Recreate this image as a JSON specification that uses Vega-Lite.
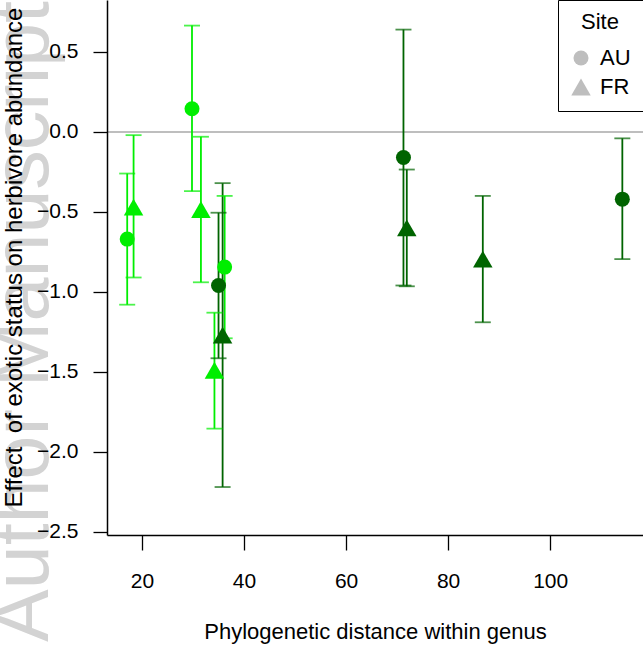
{
  "$schema": "https://vega.github.io/schema/vega-lite/v6.json",
  "width": 536,
  "height": 535,
  "autosize": {"type": "none"},
  "padding": {"left": 107, "top": 0, "right": 0, "bottom": 113},
  "background": "white",
  "title": {
    "text": "Author Manuscript",
    "orient": "left",
    "anchor": "start",
    "frame": "bounds",
    "fontSize": 79,
    "font": "Liberation Sans",
    "fontWeight": "normal",
    "color": "#d3d3d3",
    "offset": -62,
    "zindex": 0
  },
  "config": {
    "font": "Liberation Sans",
    "view": {"stroke": null},
    "axis": {
      "grid": false,
      "domainColor": "black",
      "tickColor": "black",
      "labelColor": "black",
      "titleColor": "black",
      "labelFont": "Liberation Sans",
      "titleFont": "Liberation Sans",
      "titleFontWeight": "normal",
      "labelFontSize": 21,
      "titleFontSize": 22,
      "domainWidth": 1.5,
      "tickWidth": 1.3
    },
    "legend": {
      "labelFont": "Liberation Sans",
      "titleFont": "Liberation Sans",
      "titleFontWeight": "normal",
      "symbolBaseFillColor": "#bebebe",
      "symbolBaseStrokeColor": "#bebebe"
    }
  },
  "data": {
    "values": [
      {"dist": 17.1, "effect": -0.67, "lo": -1.08, "hi": -0.26, "Site": "AU", "group": "A"},
      {"dist": 18.35, "effect": -0.47, "lo": -0.91, "hi": -0.02, "Site": "FR", "group": "A"},
      {"dist": 29.8, "effect": 0.145, "lo": -0.37, "hi": 0.665, "Site": "AU", "group": "A"},
      {"dist": 31.55, "effect": -0.485, "lo": -0.94, "hi": -0.03, "Site": "FR", "group": "A"},
      {"dist": 34.2, "effect": -1.49, "lo": -1.855, "hi": -1.13, "Site": "FR", "group": "A"},
      {"dist": 36.2, "effect": -0.845, "lo": -1.29, "hi": -0.4, "Site": "AU", "group": "A"},
      {"dist": 35.0, "effect": -0.96, "lo": -1.415, "hi": -0.505, "Site": "AU", "group": "B"},
      {"dist": 35.8, "effect": -1.27, "lo": -2.22, "hi": -0.32, "Site": "FR", "group": "B"},
      {"dist": 71.25, "effect": -0.16, "lo": -0.96, "hi": 0.64, "Site": "AU", "group": "B"},
      {"dist": 71.9, "effect": -0.6, "lo": -0.965, "hi": -0.235, "Site": "FR", "group": "B"},
      {"dist": 86.8, "effect": -0.795, "lo": -1.19, "hi": -0.4, "Site": "FR", "group": "B"},
      {"dist": 114.15, "effect": -0.42, "lo": -0.795, "hi": -0.04, "Site": "AU", "group": "B"}
    ]
  },
  "layer": [
    {
      "mark": {"type": "rule", "color": "#bebebe", "strokeWidth": 1.3},
      "encoding": {"y": {"datum": 0, "type": "quantitative"}}
    },
    {
      "mark": {"type": "rule", "strokeWidth": 1.8},
      "encoding": {
        "x": {"field": "dist", "type": "quantitative",
              "scale": {"domain": [13.14, 118.2], "nice": false, "zero": false},
              "axis": {"values": [20, 40, 60, 80, 100], "tickSize": 15, "labelPadding": 20, "zindex": 2,
                       "title": "Phylogenetic distance within genus", "titlePadding": 30}},
        "y": {"field": "lo", "type": "quantitative",
              "scale": {"domain": [-2.52, 0.825], "nice": false, "zero": false},
              "axis": {"values": [-2.5, -2, -1.5, -1, -0.5, 0, 0.5], "format": ".1f", "tickSize": 14, "zindex": 2,
                       "labelPadding": 15, "title": "Effect\u00a0 of exotic status on herbivore abundance",
                       "titleFontSize": 24, "titleY": 257, "titlePadding": 10}},
        "y2": {"field": "hi"},
        "color": {"field": "group", "type": "nominal",
                  "scale": {"domain": ["A", "B"], "range": ["#00ee00", "#006400"]}, "legend": null}
      }
    },
    {
      "mark": {"type": "tick", "orient": "horizontal", "size": 16, "thickness": 1.8},
      "encoding": {
        "x": {"field": "dist", "type": "quantitative"},
        "y": {"field": "lo", "type": "quantitative"},
        "color": {"field": "group", "type": "nominal", "legend": null}
      }
    },
    {
      "mark": {"type": "tick", "orient": "horizontal", "size": 16, "thickness": 1.8},
      "encoding": {
        "x": {"field": "dist", "type": "quantitative"},
        "y": {"field": "hi", "type": "quantitative"},
        "color": {"field": "group", "type": "nominal", "legend": null}
      }
    },
    {
      "mark": {"type": "point", "filled": true, "opacity": 1},
      "encoding": {
        "x": {"field": "dist", "type": "quantitative"},
        "y": {"field": "effect", "type": "quantitative"},
        "color": {"field": "group", "type": "nominal", "legend": null},
        "shape": {"field": "Site", "type": "nominal",
                  "scale": {"domain": ["AU", "FR"], "range": ["circle", "triangle-up"]},
                  "legend": {"orient": "top-right", "offset": 0, "title": "Site",
                             "titleFontSize": 22, "labelFontSize": 22, "titleAnchor": "middle",
                             "titleAlign": "center", "titlePadding": 13, "rowPadding": 6,
                             "padding": 12, "strokeColor": "black", "fillColor": "white",
                             "labelOffset": 8, "zindex": 3}},
        "size": {"field": "Site", "type": "nominal",
                 "scale": {"domain": ["AU", "FR"], "range": [225, 380]}}
      }
    }
  ]
}
